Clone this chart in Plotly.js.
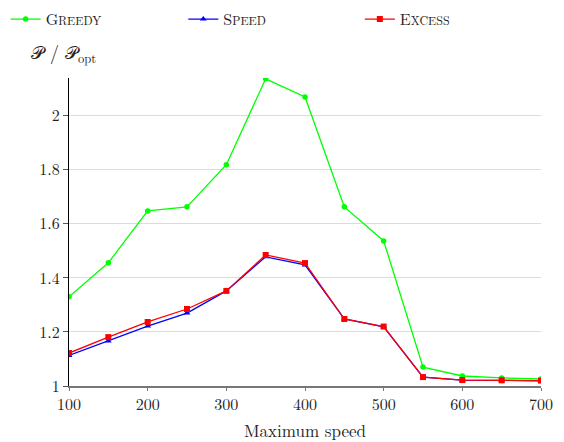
<!DOCTYPE html>
<html><head><meta charset="utf-8">
<script src="https://cdn.plot.ly/plotly-3.0.1.min.js"></script>
<style>body{margin:0;background:#fff}#c{width:564px;height:442px}</style>
</head><body><div id="c"></div>
<script>
const speeds = [100,150,200,250,300,350,400,450,500,550,600,650,700];
const greedy = [1.33,1.456,1.648,1.663,1.819,2.137,2.07,1.663,1.537,1.07,1.037,1.03,1.026];
const speed  = [1.113,1.167,1.222,1.27,1.352,1.478,1.448,1.248,1.219,1.033,1.022,1.021,1.019];
const excess = [1.122,1.181,1.237,1.285,1.352,1.485,1.455,1.248,1.22,1.033,1.022,1.021,1.02];
const names = ["G<span style='font-size:12px'>REEDY</span>","S<span style='font-size:12px'>PEED</span>","E<span style='font-size:12px'>XCESS</span>"];
const yTicks = [1,1.2,1.4,1.6,1.8,2];
const xTicks = [100,200,300,400,500,600,700];
const font = "Latin Modern Roman, DejaVu Serif, serif";
const traces = [
 {x:speeds,y:greedy,name:names[0],legend:'legend',mode:'lines+markers',line:{color:'#00ff00',width:1.3},marker:{symbol:'circle',size:5.5,color:'#00ff00'}},
 {x:speeds,y:speed,name:names[1],legend:'legend2',mode:'lines+markers',line:{color:'#0000ff',width:1.3},marker:{symbol:'triangle-up',size:6,color:'#0000ff'}},
 {x:speeds,y:excess,name:names[2],legend:'legend3',mode:'lines+markers',line:{color:'#ff0000',width:1.3},marker:{symbol:'square',size:6,color:'#ff0000'}}
];
const leg = (xp) => ({x:xp,y:0.995,xref:'container',yref:'container',xanchor:'left',yanchor:'top',font:{size:16,color:'#222'},itemwidth:30,bgcolor:'rgba(0,0,0,0)'});
const layout = {
 width:564,height:442,margin:{l:69,r:23,t:78,b:56,autoexpand:false},
 paper_bgcolor:'#fff',plot_bgcolor:'#fff',
 font:{family:font,size:16,color:'#222'},
 showlegend:true,
 legend:leg(0.01), legend2:leg(0.325), legend3:leg(0.638),
 xaxis:{range:[100,700],tickvals:xTicks,ticktext:xTicks.map(String),showgrid:false,zeroline:false,showline:true,linecolor:'#777',linewidth:1.5,ticks:'outside',ticklen:3,tickcolor:'#777',tickfont:{size:16},
   title:{text:'Maximum speed',font:{size:17},standoff:12}},
 yaxis:{range:[1,2.14],tickvals:yTicks,ticktext:yTicks.map(String),showgrid:true,gridcolor:'#dcdcdc',gridwidth:1,zeroline:false,showline:true,linecolor:'#000',linewidth:1.3,ticks:'outside',ticklen:5,tickcolor:'#555',tickfont:{size:16}},
 annotations:[{text:'𝒫 / 𝒫<sub>opt</sub>',xref:'paper',yref:'paper',x:-0.085,y:1.03,xanchor:'left',yanchor:'bottom',showarrow:false,font:{size:18,color:'#222'}}]
};
Plotly.newPlot('c',traces,layout,{displayModeBar:false});
</script></body></html>
